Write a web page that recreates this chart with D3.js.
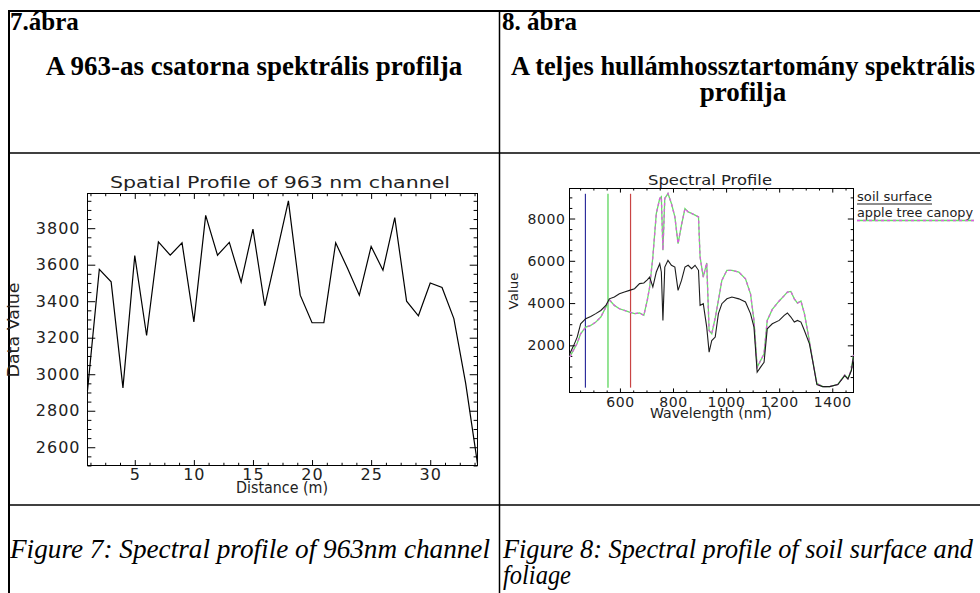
<!DOCTYPE html>
<html>
<head>
<meta charset="utf-8">
<script src="https://cdn.jsdelivr.net/npm/d3@7"></script>
<style>
  html, body { margin: 0; padding: 0; background: #fff; }
  svg { display: block; }
</style>
</head>
<body>
<div id="svganchor"></div>
<script>
// ---- figure 7: spatial profile of the 963 nm channel ----
const distance = [1, 2, 3, 4, 5, 6, 7, 8, 9, 10, 11, 12, 13, 14, 15, 16, 17,
  18, 19, 20, 21, 22, 23, 24, 25, 26, 27, 28, 29, 30, 31, 32, 33, 34];
const dataValue = [2910, 3575, 3506, 2925, 3650, 3212, 3725, 3652, 3720, 3287,
  3870, 3652, 3722, 3505, 3795, 3375, 3660, 3950, 3433, 3282, 3283, 3720, 3580,
  3433, 3700, 3570, 3858, 3400, 3320, 3500, 3475, 3305, 2950, 2510];
const distanceTicks = [5, 10, 15, 20, 25, 30];
const dataValueTicks = [2600, 2800, 3000, 3200, 3400, 3600, 3800];

// ---- figure 8: spectral profile, soil surface and apple tree canopy ----
const wavelength = [411, 426, 439, 452, 471, 490, 509, 528, 547, 560, 579, 598,
  617, 636, 655, 674, 690, 703, 712, 724, 737, 750, 756, 762, 769, 781, 794, 807,
  819, 832, 845, 857, 870, 883, 896, 902, 914, 927, 936, 946, 959, 971, 984, 1003,
  1022, 1048, 1073, 1092, 1105, 1117, 1130, 1143, 1155, 1174, 1200, 1219, 1231,
  1244, 1257, 1269, 1282, 1295, 1314, 1326, 1342, 1364, 1390, 1421, 1447, 1459,
  1472, 1480];
const soilSurface = [1600, 2000, 2390, 3020, 3260, 3370, 3500, 3650, 3890, 4200,
  4285, 4440, 4520, 4600, 4680, 4920, 4950, 5100, 5230, 4760, 5470, 5860, 5470,
  3180, 5700, 6020, 5790, 5700, 4600, 5070, 5700, 5790, 5630, 5790, 5550, 3890,
  3970, 2860, 1680, 2230, 2390, 3500, 3970, 4200, 4285, 4200, 4050, 3500, 2860,
  730, 970, 1200, 2780, 3020, 3180, 3420, 3530, 3340, 3100, 3180, 3100, 2700,
  2070, 1280, 150, 50, 50, 150, 570, 410, 810, 1500];
const appleCanopy = [1450, 1800, 2100, 2550, 2860, 2940, 3100, 3340, 3810, 4160,
  3890, 3730, 3650, 3570, 3500, 3530, 3420, 4130, 4760, 6180, 8230, 8950, 9030,
  6500, 8950, 9180, 8710, 8080, 6810, 7700, 8470, 8310, 8240, 8160, 8080, 6180,
  5230, 5900, 2700, 2550, 3300, 4130, 5070, 5550, 5550, 5470, 5150, 4440, 3180,
  970, 1280, 1600, 3180, 3700, 4100, 4350, 4520, 4550, 4200, 4000, 4100, 3500,
  2200, 1300, 200, 50, 50, 150, 600, 420, 850, 1550];
const bandLines = [470, 555, 640];
const bandColors = ["#2e2e9c", "#4fd24f", "#c94444"];
const wavelengthTicks = [600, 800, 1000, 1200, 1400];
const valueTicks = [2000, 4000, 6000, 8000];

const W = 980, H = 593;
const serif = "'Liberation Serif', 'Times New Roman', serif";
const idl = "'DejaVu Sans', sans-serif";

const svg = d3.select("#svganchor").append("svg")
  .attr("width", W).attr("height", H);
svg.append("rect").attr("width", W).attr("height", H).attr("fill", "#fff");

// ---- table grid ----
const grid = svg.append("g").attr("stroke", "#000").attr("fill", "none");
grid.append("line").attr("x1", 8).attr("x2", W).attr("y1", 11).attr("y2", 11).attr("stroke-width", 2);
grid.append("line").attr("x1", 9).attr("x2", 9).attr("y1", 10).attr("y2", H).attr("stroke-width", 2);
grid.append("line").attr("x1", 499.5).attr("x2", 499.5).attr("y1", 11).attr("y2", H).attr("stroke-width", 1.5);
[153, 505].forEach(yy => {
  grid.append("line").attr("x1", 9).attr("x2", W).attr("y1", yy).attr("y2", yy).attr("stroke-width", 1.5);
});

// ---- headings and captions ----
function txt(x, y, s, o) {
  const t = svg.append("text").attr("x", x).attr("y", y).text(s)
    .attr("font-family", serif).attr("font-size", o.size)
    .attr("font-weight", o.weight || "normal")
    .attr("font-style", o.style || "normal")
    .attr("text-anchor", o.anchor || "start").attr("fill", "#000");
  if (o.len) t.attr("textLength", o.len).attr("lengthAdjust", "spacingAndGlyphs");
  return t;
}
txt(10, 30, "7.ábra", {size: 25, weight: "bold"});
txt(254, 75, "A 963-as csatorna spektrális profilja", {size: 27, weight: "bold", anchor: "middle"});
txt(502, 30, "8. ábra", {size: 25, weight: "bold"});
txt(743, 75, "A teljes hullámhossztartomány spektrális", {size: 27, weight: "bold", anchor: "middle", len: 464});
txt(743, 101, "profilja", {size: 27, weight: "bold", anchor: "middle"});
txt(10, 558, "Figure 7: Spectral profile of 963nm channel", {size: 27, style: "italic", len: 480});
txt(503, 558, "Figure 8: Spectral profile of soil surface and", {size: 27, style: "italic", len: 470});
txt(503, 584, "foliage", {size: 27, style: "italic", len: 68});

// ---- IDL style box axes, ticks inward on all four sides ----
function boxAxes(g, x, y, o) {
  const [l, r] = x.range(), [b, t] = y.range();
  const xLen = 0.02 * (b - t), yLen = 0.02 * (r - l);
  const sides = [
    {mk: d3.axisBottom, sc: x, tr: [0, b], maj: o.xMajor, min: o.xMinor, len: xLen, label: true, pad: o.xPad},
    {mk: d3.axisTop, sc: x, tr: [0, t], maj: o.xMajor, min: o.xMinor, len: xLen},
    {mk: d3.axisLeft, sc: y, tr: [l, 0], maj: o.yMajor, min: o.yMinor, len: yLen, label: true, pad: o.yPad},
    {mk: d3.axisRight, sc: y, tr: [r, 0], maj: o.yMajor, min: o.yMinor, len: yLen}
  ];
  sides.forEach(d => {
    g.append("g").attr("transform", `translate(${d.tr})`)
      .call(d.mk(d.sc).tickValues(d.min).tickSize(-d.len / 2).tickFormat(""))
      .call(s => s.select(".domain").remove());
    const a = g.append("g").attr("transform", `translate(${d.tr})`)
      .call(d.mk(d.sc).tickValues(d.maj).tickSize(-d.len)
        .tickPadding(d.pad || 0).tickFormat(d.label ? d3.format("d") : ""))
      .call(s => s.select(".domain").remove());
    a.attr("font-family", idl).attr("font-size", o.fontSize);
    a.selectAll("text").attr("fill", "#222").style("letter-spacing", o.spacing + "px");
  });
  g.selectAll(".tick line").attr("stroke", "#000");
  g.append("rect").attr("x", l).attr("y", t)
    .attr("width", r - l).attr("height", b - t)
    .attr("fill", "none").attr("stroke", "#000");
}

function label(g, x, y, s, size, len, rot) {
  const t = g.append("text").text(s)
    .attr("font-family", idl).attr("font-size", size).attr("fill", "#222")
    .attr("text-anchor", "middle")
    .attr("textLength", len).attr("lengthAdjust", "spacingAndGlyphs");
  if (rot) t.attr("transform", `translate(${x},${y}) rotate(-90)`);
  else t.attr("x", x).attr("y", y);
}

// ---- figure 7 chart ----
const g7 = svg.append("g");
const x7 = d3.scaleLinear().domain([1, 34]).range([87.5, 477.5]);
const y7 = d3.scaleLinear().domain([2500, 3990]).range([465.5, 193.5]);
boxAxes(g7, x7, y7, {
  xMajor: distanceTicks,
  xMinor: d3.range(1.25, 34, 1.25).filter(v => v % 5 !== 0),
  yMajor: dataValueTicks,
  yMinor: d3.range(2500, 3990, 50).filter(v => v % 200 !== 0),
  xPad: 3, yPad: 7, fontSize: 16, spacing: 1
});
g7.append("path")
  .datum(distance.map((d, i) => [d, dataValue[i]]))
  .attr("d", d3.line().x(d => x7(d[0])).y(d => y7(d[1])))
  .attr("fill", "none").attr("stroke", "#000").attr("stroke-width", 1.2);
label(g7, 280, 188, "Spatial Profile of 963 nm channel", 16, 340);
label(g7, 282, 493, "Distance (m)", 15, 92);
label(g7, 19, 330, "Data Value", 15, 95, true);

// ---- figure 8 chart ----
const g8 = svg.append("g");
const x8 = d3.scaleLinear().domain([410, 1480]).range([569.5, 853.5]);
const y8 = d3.scaleLinear().domain([-230, 9420]).range([392.5, 188.5]);
boxAxes(g8, x8, y8, {
  xMajor: wavelengthTicks,
  xMinor: d3.range(450, 1480, 50).filter(v => v % 200 !== 0),
  yMajor: valueTicks,
  yMinor: d3.range(0, 9420, 500).filter(v => v % 2000 !== 0),
  xPad: 4.5, yPad: 4, fontSize: 14, spacing: 0.6
});

bandLines.forEach((w, i) => {
  g8.append("line")
    .attr("x1", x8(w)).attr("x2", x8(w))
    .attr("y1", y8(0)).attr("y2", y8(9170))
    .attr("stroke", bandColors[i]).attr("stroke-width", 1.2);
});

const line8 = d3.line().x(d => x8(d[0])).y(d => y8(d[1]));
const canopyPts = wavelength.map((w, i) => [w, appleCanopy[i]]);
const soilPts = wavelength.map((w, i) => [w, soilSurface[i]]);
g8.append("path").datum(canopyPts).attr("d", line8)
  .attr("fill", "none").attr("stroke", "#66e066").attr("stroke-width", 1.3);
g8.append("path").datum(canopyPts).attr("d", line8)
  .attr("fill", "none").attr("stroke", "#dc5ce0").attr("stroke-width", 1.3)
  .attr("stroke-dasharray", "3,3");
g8.append("path").datum(soilPts).attr("d", line8)
  .attr("fill", "none").attr("stroke", "#1c1c1c").attr("stroke-width", 1.1);

label(g8, 710, 185, "Spectral Profile", 14, 124);
label(g8, 711, 418, "Wavelength (nm)", 14, 122);
label(g8, 518, 291, "Value", 13, 37, true);

// legend
const legend = g8.append("g").attr("font-family", idl).attr("font-size", 12).attr("fill", "#222");
legend.append("text").attr("x", 857).attr("y", 201).text("soil surface")
  .attr("textLength", 75).attr("lengthAdjust", "spacingAndGlyphs");
legend.append("line").attr("x1", 857).attr("x2", 932).attr("y1", 204).attr("y2", 204)
  .attr("stroke", "#1c1c1c");
legend.append("text").attr("x", 857).attr("y", 217).text("apple tree canopy")
  .attr("textLength", 116).attr("lengthAdjust", "spacingAndGlyphs");
legend.append("line").attr("x1", 857).attr("x2", 974).attr("y1", 220.5).attr("y2", 220.5)
  .attr("stroke", "#66e066").attr("stroke-width", 1.3);
legend.append("line").attr("x1", 857).attr("x2", 974).attr("y1", 220.5).attr("y2", 220.5)
  .attr("stroke", "#dc5ce0").attr("stroke-width", 1.3).attr("stroke-dasharray", "3,3");
</script>
</body>
</html>
